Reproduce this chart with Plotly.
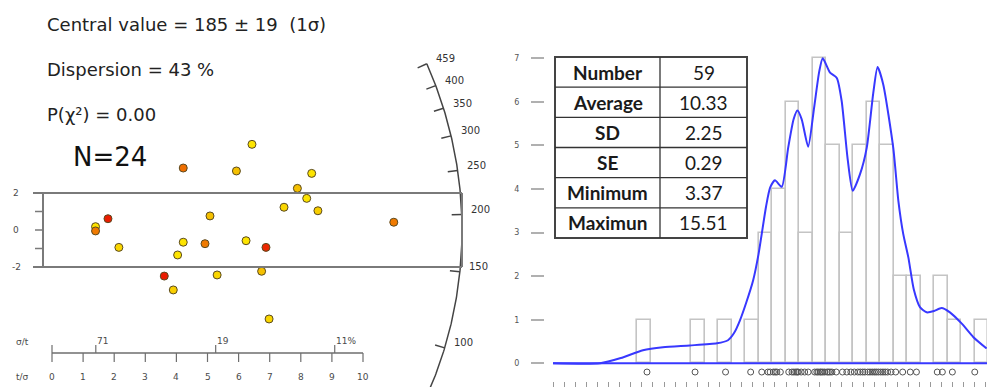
import numpy as np
import plotly.graph_objects as go

# ---------------- data ----------------
# Left panel: radial plot (precision t/sigma, standardised estimate)
precision = [1.40, 1.40, 1.80, 2.15, 4.22, 3.61, 3.90, 4.04, 4.22, 5.08, 4.92, 5.31,
             5.93, 6.43, 6.24, 6.88, 6.74, 6.98, 7.46, 7.89, 8.19, 8.35, 8.55, 10.99]
z_score = [0.18, -0.05, 0.61, -0.94, 3.35, -2.49, -3.24, -1.35, -0.66, 0.76, -0.74, -2.43,
           3.19, 4.63, -0.58, -0.94, -2.23, -4.81, 1.23, 2.25, 1.71, 3.06, 1.04, 0.42]
colour_level = [0.05, 0.6, 1.0, 0.15, 0.65, 1.0, 0.2, 0.05, 0.05, 0.3, 0.6, 0.15,
                0.3, 0.05, 0.05, 0.95, 0.3, 0.15, 0.15, 0.3, 0.05, 0.05, 0.2, 0.6]
central_age = 185
arc_ages = [459, 400, 350, 300, 250, 200, 150, 100]
precision_ticks = [0, 1, 2, 3, 4, 5, 6, 7, 8, 9, 10]
rel_error_ticks = [71, 19, 11]
rel_error_labels = ["71", "19", "11%"]
z_ticks = [-2, -1, 0, 1, 2]
z_labels = {-2: "-2", 0: "0", 2: "2"}
info_lines = ["Central value = 185 ± 19  (1σ)", "Dispersion = 43 %", "P(χ²) = 0.00"]
n_label = "N=24"

# Right panel: histogram + density
ages = [3.37, 5.15, 6.28, 7.21,
        7.62, 7.85, 7.93,
        8.05, 8.12, 8.18, 8.31,
        8.62, 8.74, 8.81, 8.88, 8.93, 8.97,
        9.08, 9.21, 9.34,
        9.58, 9.66, 9.71, 9.78, 9.82, 9.88, 9.95,
        10.04, 10.09, 10.15, 10.22, 10.38,
        10.61, 10.77, 10.92,
        11.05, 11.18, 11.27, 11.36, 11.44,
        11.55, 11.63, 11.71, 11.79, 11.86, 11.94,
        12.03, 12.11, 12.19, 12.28, 12.41,
        12.58, 12.84,
        13.12, 13.35,
        14.12, 14.31,
        14.68,
        15.51]
kde_x = [-0.11, 1.63, 2.4, 3.22, 3.96, 4.96, 5.96, 6.37, 6.6, 6.81, 7.05, 7.30, 7.5, 7.62,
         7.78, 7.93, 8.11, 8.36, 8.60, 8.80, 8.94, 9.10, 9.34, 9.56, 9.75, 9.88, 10.15,
         10.40, 10.58, 10.8, 10.99, 11.26, 11.51, 11.75, 11.91, 12.12, 12.49, 12.68,
         12.86, 13.05, 13.25, 13.48, 13.73, 14.0, 14.28, 14.59, 15.03, 15.46, 15.95]
kde_y = [0.0, 0.0, 0.12, 0.30, 0.37, 0.41, 0.46, 0.53, 0.70, 0.98, 1.40, 1.90, 2.50, 2.97,
         3.60, 4.03, 4.20, 4.05, 4.95, 5.60, 5.80, 5.60, 4.97, 5.87, 6.70, 7.00, 6.67,
         6.55, 6.02, 4.70, 3.96, 4.34, 4.95, 6.20, 6.80, 6.40, 4.95, 3.73,
         2.97, 2.43, 1.70, 1.29, 1.17, 1.20, 1.27, 1.17, 0.91, 0.60, 0.34]
hist_start, hist_end, hist_size = 3.0, 16.0, 0.5
count_ticks = [0, 1, 2, 3, 4, 5, 6, 7]
stat_names = ["Number", "Average", "SD", "SE", "Minimum", "Maximun"]
stat_values = ["59", "10.33", "2.25", "0.29", "3.37", "15.51"]

# ---------------- layout geometry ----------------
W, H = 987, 387
L_RIGHT = 500                 # left panel pixel width
X0_PX, Y0_PX = 52, 230        # origin pixel of radial plot
PXX, PXY = 31.1, 18.5         # pixels per unit
R_ARC = 410                   # arc radius in px
ARC_K = 0.488                 # angle scale of the radial axis

def lx(px):
    return (px - X0_PX) / PXX

def ly(py):
    return (Y0_PX - py) / PXY

def px_to_paper(px, py):
    return px / W, 1 - py / H

GREY = "#6e6e6e"
TXT = "#4a4a4a"
SMALL = dict(family="DejaVu Sans", size=9, color=TXT)

fig = go.Figure()

# radial plot points
fig.add_trace(go.Scatter(
    x=precision, y=z_score, mode="markers", xaxis="x", yaxis="y",
    marker=dict(size=8, color=colour_level, cmin=0, cmax=1,
                colorscale=[[0, "#ffeb00"], [0.3, "#f5c000"], [0.6, "#f07a00"], [1, "#ea1c00"]],
                line=dict(color="#5a4a20", width=1)),
    hoverinfo="skip", showlegend=False))

# arc
def arc_angle(age):
    return np.arctan(ARC_K * np.log(age / central_age))

th = np.linspace(arc_angle(max(arc_ages)), -0.47, 200)
fig.add_trace(go.Scatter(
    x=R_ARC * np.cos(th) / PXX, y=R_ARC * np.sin(th) / PXY, mode="lines",
    line=dict(color="#444", width=1.5), xaxis="x", yaxis="y",
    hoverinfo="skip", showlegend=False))

shapes = []
annotations = []
for a in arc_ages:
    t = arc_angle(a)
    xo, yo = R_ARC * np.cos(t), R_ARC * np.sin(t)
    xi, yi = (R_ARC - 10) * np.cos(t), (R_ARC - 10) * np.sin(t)
    shapes.append(dict(type="line", xref="x", yref="y", x0=xo / PXX, y0=yo / PXY,
                       x1=xi / PXX, y1=yi / PXY, line=dict(color="#444", width=1.5)))
    annotations.append(dict(x=xo / PXX, y=yo / PXY, xref="x", yref="y", text=str(a),
                            showarrow=False, xshift=19, yshift=5,
                            xanchor="center", yanchor="middle",
                            font=dict(family="DejaVu Sans", size=10, color="#333")))

# +-2 band
band_col = "#7a7a7a"
for zb in (-2, 2):
    shapes.append(dict(type="line", xref="x", yref="y", x0=lx(33), x1=lx(462), y0=zb, y1=zb,
                       line=dict(color=band_col, width=2)))
shapes.append(dict(type="line", xref="x", yref="y", x0=lx(462), x1=lx(462), y0=-2, y1=2,
                   line=dict(color=band_col, width=2)))
# y axis
shapes.append(dict(type="line", xref="x", yref="y", x0=lx(43), x1=lx(43), y0=-2, y1=2,
                   line=dict(color=band_col, width=2)))
for zt in z_ticks:
    shapes.append(dict(type="line", xref="x", yref="y", x0=lx(35), x1=lx(43), y0=zt, y1=zt,
                       line=dict(color=band_col, width=1.5)))
    if zt in z_labels:
        annotations.append(dict(x=lx(16), y=zt, xref="x", yref="y", text=z_labels[zt],
                                xanchor="center", yanchor="middle",
                                showarrow=False, font=SMALL))

# bottom precision axis
ax_y = ly(353)
shapes.append(dict(type="line", xref="x", yref="y", x0=0, x1=max(precision_ticks), y0=ax_y, y1=ax_y,
                   line=dict(color=GREY, width=1.5)))
for pt in precision_ticks:
    shapes.append(dict(type="line", xref="x", yref="y", x0=pt, x1=pt, y0=ax_y, y1=ly(362),
                       line=dict(color=GREY, width=1.2)))
    annotations.append(dict(x=pt, y=ly(377), xref="x", yref="y", text=str(pt),
                            xanchor="center", yanchor="middle",
                            showarrow=False, font=SMALL))
shapes.append(dict(type="line", xref="x", yref="y", x0=0, x1=0, y0=ax_y, y1=ly(345),
                   line=dict(color=GREY, width=1.2)))
for rv, rl in zip(rel_error_ticks, rel_error_labels):
    xp = 100 / rv
    shapes.append(dict(type="line", xref="x", yref="y", x0=xp, x1=xp, y0=ax_y, y1=ly(345),
                       line=dict(color=GREY, width=1.2)))
    annotations.append(dict(x=xp, y=ly(341), xref="x", yref="y", text=rl, xanchor="left",
                            yanchor="middle", xshift=-1, showarrow=False, font=SMALL))
annotations.append(dict(x=lx(22), y=ly(377), xref="x", yref="y", text="t/σ",
                        xanchor="center", yanchor="middle", showarrow=False, font=SMALL))
annotations.append(dict(x=lx(22), y=ly(342), xref="x", yref="y", text="σ/t",
                        xanchor="center", yanchor="middle", showarrow=False, font=SMALL))

# info text
for i, line in enumerate(info_lines):
    px_, py_ = px_to_paper(45, 24 + 45 * i)
    annotations.append(dict(x=px_, y=py_, xref="paper", yref="paper", text=line,
                            xanchor="left", yanchor="middle", showarrow=False,
                            font=dict(family="DejaVu Sans", size=18, color="#222")))
px_, py_ = px_to_paper(71, 157)
annotations.append(dict(x=px_, y=py_, xref="paper", yref="paper", text=n_label,
                        xanchor="left", yanchor="middle", showarrow=False,
                        font=dict(family="DejaVu Sans", size=26, color="#111")))

# ---------------- right panel ----------------
fig.add_trace(go.Histogram(
    x=ages, xbins=dict(start=hist_start, end=hist_end, size=hist_size),
    marker=dict(color="rgba(255,255,255,0)", line=dict(color="#c4c4c4", width=1.6)),
    xaxis="x2", yaxis="y2", hoverinfo="skip", showlegend=False))
fig.add_trace(go.Scatter(
    x=kde_x, y=kde_y, mode="lines", line=dict(color="#3838ff", width=2, shape="spline", smoothing=0.6),
    xaxis="x2", yaxis="y2", hoverinfo="skip", showlegend=False))
fig.add_trace(go.Scatter(
    x=ages, y=[-0.2] * len(ages), mode="markers",
    marker=dict(symbol="circle-open", size=6, color="#555", line=dict(width=1)),
    xaxis="x2", yaxis="y2", hoverinfo="skip", showlegend=False))
shapes.append(dict(type="line", xref="x2", yref="y2", x0=kde_x[0], x1=15.963, y0=0, y1=0,
                   line=dict(color="#3838ff", width=2)))

# statistics table
T_X0, T_XM, T_X1 = 555, 660, 747
T_Y0, T_ROW = 57, 30.17
ya = 1 - T_Y0 / H
yb = 1 - (T_Y0 + T_ROW * len(stat_names)) / H
shapes.append(dict(type="rect", xref="paper", yref="paper", x0=T_X0 / W, x1=T_X1 / W,
                   y0=yb, y1=ya, line=dict(color="#444", width=2), fillcolor="white", layer="above"))
shapes.append(dict(type="line", xref="paper", yref="paper", x0=T_XM / W, x1=T_XM / W,
                   y0=yb, y1=ya, line=dict(color="#333", width=1.3), layer="above"))
TFONT = dict(family="Lato", size=19, color="#1a1a1a")
for i, (nm, val) in enumerate(zip(stat_names, stat_values)):
    yc = T_Y0 + T_ROW * (i + 0.5)
    a, b = px_to_paper((T_X0 + T_XM) / 2, yc)
    annotations.append(dict(x=a, y=b, xref="paper", yref="paper", text="<b>" + nm + "</b>",
                            xanchor="center", yanchor="middle", showarrow=False, font=TFONT))
    a, b = px_to_paper((T_XM + T_X1) / 2, yc)
    annotations.append(dict(x=a, y=b, xref="paper", yref="paper", text=val,
                            xanchor="center", yanchor="middle", showarrow=False, font=TFONT))
    if i > 0:
        _, yy = px_to_paper(0, T_Y0 + T_ROW * i)
        shapes.append(dict(type="line", xref="paper", yref="paper", x0=T_X0 / W, x1=T_X1 / W,
                           y0=yy, y1=yy, line=dict(color="#333", width=1.3), layer="above"))

fig.update_layout(
    width=W, height=H, margin=dict(l=0, r=0, t=0, b=0),
    paper_bgcolor="white", plot_bgcolor="white", bargap=0,
    xaxis=dict(domain=[0, L_RIGHT / W], range=[lx(0), lx(L_RIGHT)], visible=False),
    yaxis=dict(domain=[0, 1], range=[ly(H), ly(0)], visible=False),
    xaxis2=dict(domain=[545 / W, 1], range=[-0.4074, 15.963], anchor="y2",
                showgrid=False, zeroline=False, showline=False, showticklabels=False,
                ticks="outside", ticklen=5, tickcolor="#999", tickwidth=1,
                tick0=-0.11, dtick=0.411),
    yaxis2=dict(domain=[6 / H, 1], range=[-0.406, 8.338], anchor="x2",
                showgrid=False, zeroline=False, showline=False,
                tickvals=count_ticks, ticks="outside", ticklen=13, tickwidth=2,
                tickcolor="#b0b0b0", ticklabelstandoff=10,
                tickfont=dict(family="DejaVu Sans", size=8, color="#555")),
    shapes=shapes, annotations=annotations,
)

fig.write_html("out.html", config={"displayModeBar": False},
               post_script="document.body.style.margin='0';")
